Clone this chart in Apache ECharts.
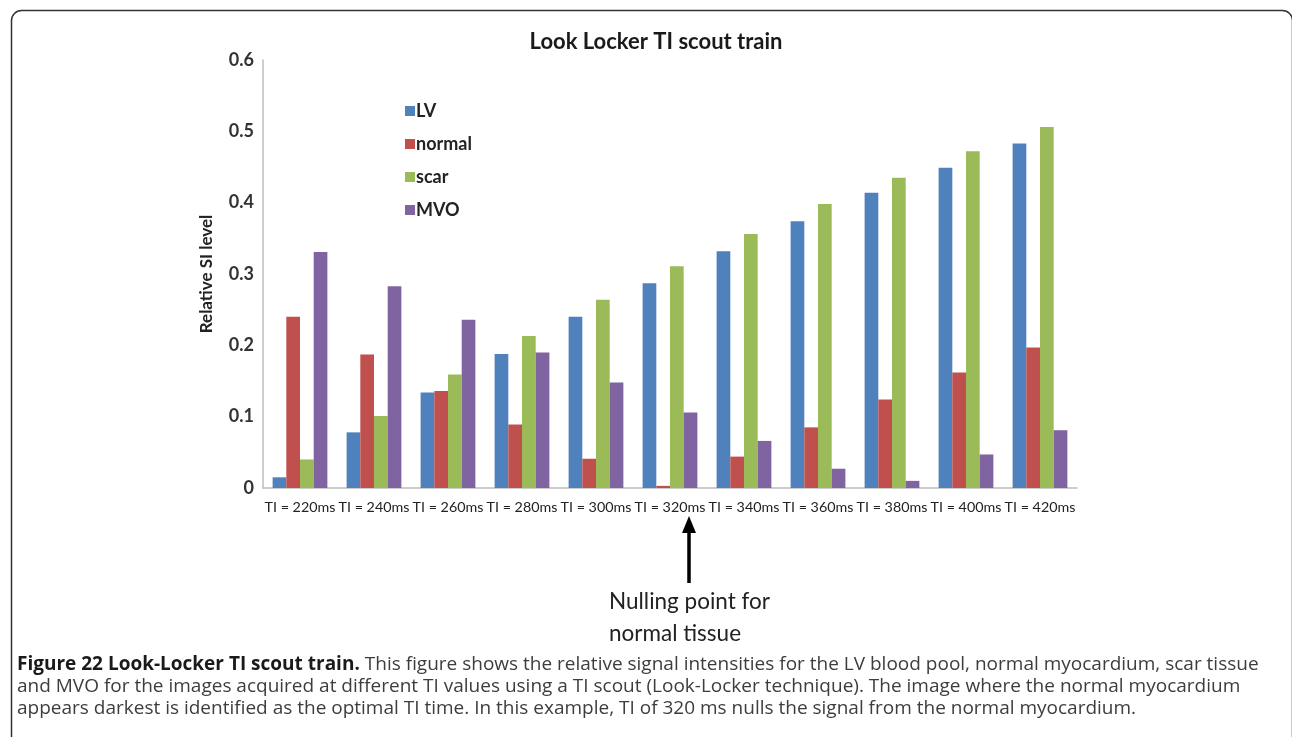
<!DOCTYPE html>
<html>
<head>
<meta charset="utf-8">
<title>Look Locker TI scout train</title>
<script src="https://cdn.jsdelivr.net/npm/echarts@6/dist/echarts.min.js"></script>
<style>
  html, body { margin: 0; padding: 0; background: #fff; }
  #chart { width: 1292px; height: 737px; }
</style>
</head>
<body>
<div id="chart"></div>
<script>
// categories (TI values)
const categories = ['TI = 220ms', 'TI = 240ms', 'TI = 260ms', 'TI = 280ms', 'TI = 300ms', 'TI = 320ms',
  'TI = 340ms', 'TI = 360ms', 'TI = 380ms', 'TI = 400ms', 'TI = 420ms'];

// relative SI level
const lv     = [0.015, 0.078, 0.134, 0.188, 0.240, 0.287, 0.332, 0.374, 0.414, 0.449, 0.483];
const normal = [0.240, 0.187, 0.136, 0.089, 0.041, 0.003, 0.044, 0.085, 0.124, 0.162, 0.197];
const scar   = [0.040, 0.101, 0.159, 0.213, 0.264, 0.311, 0.356, 0.398, 0.435, 0.472, 0.506];
const mvo    = [0.331, 0.283, 0.236, 0.190, 0.148, 0.106, 0.066, 0.027, 0.010, 0.047, 0.081];

const yTicks = [0, 0.1, 0.2, 0.3, 0.4, 0.5, 0.6];

const chart = echarts.init(document.getElementById('chart'));

function bar(name, data, color) {
  return {
    name: name,
    type: 'bar',
    data: data,
    barGap: '0%',
    barCategoryGap: '26%',
    itemStyle: { color: color }
  };
}

const option = {
  animation: false,
  backgroundColor: '#fff',
  textStyle: { fontFamily: 'Lato' },
  title: {
    text: 'Look Locker TI scout train',
    left: 651,
    textAlign: 'center',
    top: 26,
    textStyle: { fontFamily: 'Lato', fontSize: 22, fontWeight: 'bold', color: '#1a1a1a' }
  },
  legend: {
    orient: 'vertical',
    left: 400,
    top: 97,
    itemWidth: 10,
    itemHeight: 10,
    itemGap: 15,
    icon: 'rect',
    textStyle: { fontFamily: 'Lato', fontSize: 18, fontWeight: 'bold', color: '#222', padding: [0, 0, 0, -4] },
    data: ['LV', 'normal', 'scar', 'MVO']
  },
  grid: { left: 263, right: 215, top: 60, bottom: 249, containLabel: false },
  xAxis: {
    type: 'category',
    data: categories,
    axisLine: { lineStyle: { color: '#bdbdbd', width: 1.5 } },
    axisTick: { show: false },
    axisLabel: { fontFamily: 'Lato', fontSize: 14.3, color: '#222', margin: 12, interval: 0 }
  },
  yAxis: {
    type: 'value',
    min: yTicks[0],
    max: yTicks[yTicks.length - 1],
    interval: 0.1,
    name: 'Relative SI level',
    nameLocation: 'middle',
    nameGap: 48,
    nameTextStyle: { fontFamily: 'Lato', fontSize: 17, fontWeight: 'bold', color: '#222' },
    axisLine: { show: true, lineStyle: { color: '#bdbdbd', width: 1.5 } },
    axisTick: { show: false },
    splitLine: { show: false },
    axisLabel: { fontFamily: 'Lato', fontSize: 18, fontWeight: 'bold', color: '#333', margin: 9,
      formatter: v => String(Math.round(v * 10) / 10) }
  },
  series: [
    bar('LV', lv, '#4f81bd'),
    bar('normal', normal, '#c0504d'),
    bar('scar', scar, '#9bbb59'),
    bar('MVO', mvo, '#8064a2')
  ]
};

chart.setOption(option);

// annotation arrow under the nulling point, placed from the axis scale
const ax = chart.convertToPixel({ xAxisIndex: 0 }, 'TI = 320ms') + 19;
const cap = { fontFamily: 'Open Sans', fontSize: 19, fill: '#3d3d3d' };
chart.setOption({
  graphic: [
    {
      type: 'rect', left: 9, top: 8,
      shape: { width: 1281, height: 760, r: 10 },
      style: { fill: 'none', stroke: '#333', lineWidth: 1.5 },
      silent: true
    },
    {
      type: 'line',
      shape: { x1: ax, y1: 583, x2: ax, y2: 530 },
      style: { stroke: '#000', lineWidth: 3.5 }
    },
    {
      type: 'polygon',
      shape: { points: [[ax - 7, 533], [ax, 516], [ax + 7, 533]] },
      style: { fill: '#000' }
    },
    {
      type: 'text', left: ax - 80, top: 586,
      style: { text: 'Nulling point for\nnormal tissue', fontFamily: 'Lato', fontSize: 22.5, lineHeight: 32, fill: '#222' }
    },
    {
      type: 'text', left: 17, top: 655,
      style: {
        text: '{b|Figure 22 Look-Locker TI scout train.} This figure shows the relative signal intensities for the LV blood pool, normal myocardium, scar tissue',
        fontFamily: cap.fontFamily, fontSize: cap.fontSize, fill: cap.fill,
        rich: { b: { fontFamily: cap.fontFamily, fontSize: cap.fontSize, fontWeight: 'bold', fill: '#1a1a1a' } }
      }
    },
    {
      type: 'text', left: 17, top: 677,
      style: { text: 'and MVO for the images acquired at different TI values using a TI scout (Look-Locker technique). The image where the normal myocardium',
        fontFamily: cap.fontFamily, fontSize: cap.fontSize, fill: cap.fill }
    },
    {
      type: 'text', left: 17, top: 699,
      style: { text: 'appears darkest is identified as the optimal TI time. In this example, TI of 320 ms nulls the signal from the normal myocardium.',
        fontFamily: cap.fontFamily, fontSize: cap.fontSize, fill: cap.fill }
    }
  ]
});
</script>
</body>
</html>
